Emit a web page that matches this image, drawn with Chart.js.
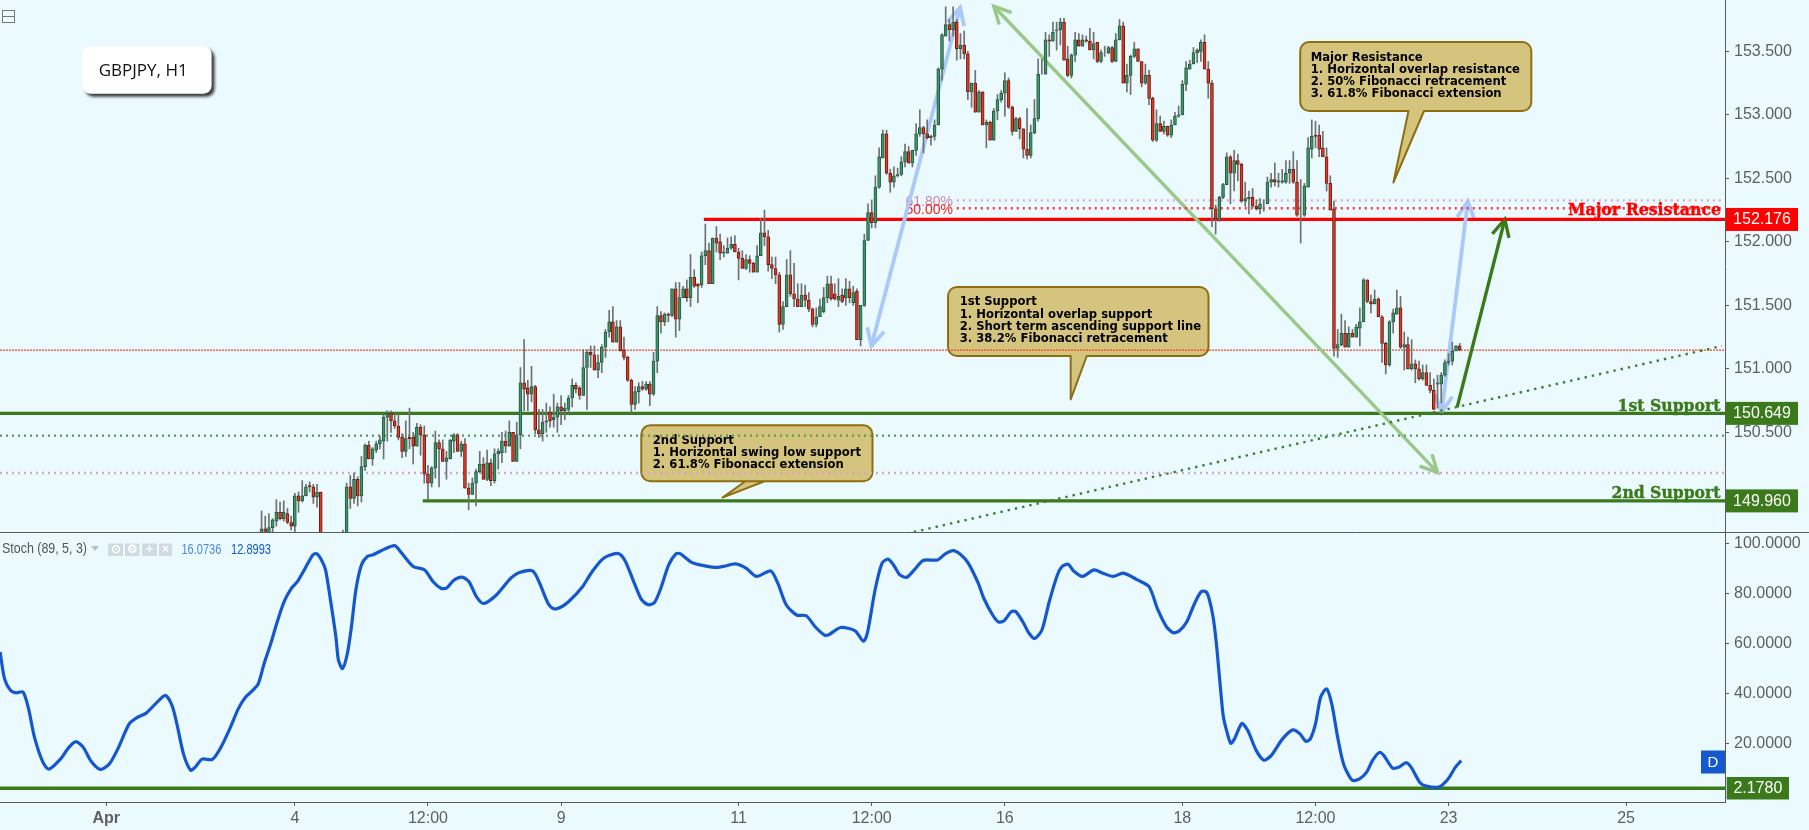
<!DOCTYPE html>
<html>
<head>
<meta charset="utf-8">
<title>GBPJPY, H1</title>
<script src="https://cdn.jsdelivr.net/npm/chart.js@4"></script>
<style>
html,body{margin:0;padding:0;background:#eafaff;width:1809px;height:830px;overflow:hidden}
canvas{position:absolute;left:0;display:block}
#priceCanvas{top:0}
#stochCanvas{top:533px}
</style>
</head>
<body>
<canvas id="priceCanvas" width="1809" height="533"></canvas>
<canvas id="stochCanvas" width="1809" height="297"></canvas>
<script>
// ---------- DATA ----------
const firstCandleBar = 71;
const candleSides = ("GRGGGRGRRG"+"RGGRRGR---"+"--GGRGRGGR"+"GGGGGRRRRG"+"RRGRRRGGRR"+"GGGRGRRGGG"+"RGRGGGRGRG"+"GRRGRRGGRG"+"GRGGGRRGGR"+"RGGGGRGRRR"+"RGGRGRGGRG"+"RGRGGRGRRG"+"GRGRRGGGRR"+"RGRRGGRRRR"+"RGGRRRGRRR"+"GGGGRRGRGR"+"GRGGGRGGGR"+"RGGGGRGGGR"+"RGGGGGRGRG"+"RRGRGRGRGG"+"GGRRGRRRGG"+"GRGRGGGRRG"+"GRGRRGRGRG"+"RGGRGGGRRG"+"RRGRGRGGGG"+"GGGGGRRRRG"+"GGRGRRGGRR"+"GGGGRGGGGR"+"RRGGGRRRRR"+"RGGRGRGGGR"+"RGRRRGGGRG"+"RGRRGRRRGG"+"GGGGR").split("");
const candleHighs = [
149.88,149.84,149.86,149.82,149.97,149.95,149.96,149.90,149.84,150.02,
150.03,150.12,150.09,150.11,150.09,150.09,150.03,null,null,null,
null,null,149.73,150.10,150.16,150.18,150.15,150.31,150.41,150.43,
150.38,150.43,150.47,150.64,150.67,150.67,150.64,150.64,150.49,150.59,
150.69,150.50,150.57,150.56,150.55,150.24,150.23,150.51,150.44,150.44,
150.35,150.44,150.49,150.49,150.43,150.45,150.10,150.14,150.21,150.35,
150.30,150.36,150.29,150.37,150.37,150.50,150.51,150.59,150.50,150.58,
151.01,151.23,150.91,151.02,150.87,150.68,150.68,150.73,150.70,150.80,
150.73,150.79,150.73,150.79,150.92,150.89,150.86,151.15,151.15,151.18,
151.18,151.11,151.19,151.31,151.46,151.49,151.38,151.38,151.25,151.10,
150.92,150.86,150.89,150.90,150.90,150.90,151.13,151.49,151.45,151.44,
151.44,151.63,151.68,151.68,151.65,151.70,151.90,151.78,151.67,151.92,
152.14,151.99,152.03,152.12,152.06,151.97,152.03,152.04,152.05,151.95,
151.93,151.90,151.89,151.84,151.97,152.18,152.25,152.09,151.88,151.88,
151.76,151.53,151.86,151.93,151.83,151.67,151.67,151.66,151.60,151.48,
151.48,151.55,151.64,151.73,151.73,151.67,151.71,151.63,151.71,151.69,
151.65,151.63,151.50,152.06,152.30,152.33,152.52,152.74,152.88,152.88,
152.57,152.59,152.58,152.67,152.77,152.75,152.72,152.93,153.04,152.91,
152.96,152.84,152.96,153.37,153.64,153.85,153.75,153.85,153.75,153.64,
153.66,153.50,153.25,153.35,153.19,153.18,152.96,152.95,153.05,153.16,
153.19,153.33,153.29,153.07,152.98,152.98,152.89,153.05,152.92,153.12,
153.44,153.44,153.65,153.63,153.73,153.73,153.76,153.76,153.54,153.48,
153.65,153.64,153.63,153.62,153.68,153.65,153.57,153.51,153.54,153.54,
153.54,153.64,153.75,153.73,153.40,153.47,153.57,153.52,153.42,153.40,
153.35,153.14,153.04,152.99,152.95,152.91,152.96,153.02,153.07,153.27,
153.42,153.43,153.53,153.52,153.59,153.63,153.42,153.27,152.29,152.36,
152.46,152.70,152.68,152.72,152.69,152.62,152.47,152.40,152.42,152.33,
152.34,152.33,152.51,152.54,152.62,152.54,152.57,152.64,152.64,152.71,
152.64,152.49,152.46,152.82,152.96,152.95,152.92,152.87,152.74,152.52,
152.32,151.31,151.43,151.38,151.33,151.31,151.35,151.48,151.71,151.70,
151.58,151.62,151.56,151.42,151.21,151.38,151.47,151.62,151.57,151.29,
151.25,151.23,151.07,151.06,151.03,151.03,150.97,150.92,150.95,150.97,
151.07,151.12,151.21,151.18,151.20];
const candleTops = [
149.74,149.74,149.75,149.81,149.87,149.87,149.87,149.86,149.79,150.00,
150.00,150.00,150.07,150.08,150.07,150.03,150.03,null,null,null,
null,null,149.69,150.07,150.07,150.13,150.13,150.23,150.40,150.40,
150.37,150.41,150.44,150.62,150.65,150.65,150.59,150.55,150.46,150.45,
150.46,150.46,150.54,150.54,150.48,150.17,150.22,150.42,150.42,150.37,
150.30,150.44,150.48,150.48,150.41,150.41,150.06,150.10,150.19,150.25,
150.25,150.26,150.26,150.33,150.35,150.43,150.43,150.50,150.50,150.48,
150.89,150.89,150.85,150.86,150.86,150.52,150.58,150.59,150.66,150.62,
150.70,150.70,150.69,150.77,150.87,150.87,150.85,151.01,151.13,151.13,
151.11,151.05,151.17,151.29,151.37,151.37,151.33,151.33,151.15,151.09,
150.91,150.82,150.86,150.86,150.88,150.88,151.06,151.42,151.42,151.43,
151.43,151.63,151.63,151.56,151.63,151.63,151.72,151.72,151.67,151.89,
151.93,151.93,152.03,152.03,152.00,151.92,151.95,151.98,151.98,151.92,
151.87,151.86,151.86,151.83,151.89,152.07,152.07,152.04,151.82,151.79,
151.74,151.49,151.74,151.74,151.59,151.55,151.58,151.58,151.54,151.47,
151.41,151.49,151.56,151.67,151.67,151.59,151.57,151.58,151.63,151.63,
151.60,151.61,151.50,152.01,152.23,152.23,152.43,152.67,152.85,152.85,
152.54,152.52,152.53,152.63,152.71,152.71,152.72,152.85,152.90,152.90,
152.85,152.83,152.92,153.36,153.63,153.71,153.71,153.73,153.73,153.55,
153.55,153.48,153.25,153.25,153.18,153.18,152.94,152.94,153.03,153.12,
153.17,153.27,153.27,153.06,152.97,152.97,152.89,152.73,152.86,152.97,
153.32,153.32,153.59,153.59,153.65,153.67,153.73,153.73,153.44,153.47,
153.59,153.59,153.59,153.59,153.58,153.56,153.57,153.49,153.49,153.53,
153.53,153.59,153.70,153.70,153.31,153.46,153.52,153.52,153.42,153.31,
153.31,153.13,152.93,152.93,152.91,152.91,152.92,152.99,153.00,153.24,
153.37,153.40,153.49,153.51,153.57,153.57,153.36,153.25,152.26,152.35,
152.45,152.67,152.67,152.64,152.64,152.61,152.34,152.35,152.35,152.28,
152.30,152.30,152.47,152.49,152.49,152.48,152.48,152.54,152.57,152.57,
152.47,152.21,152.44,152.74,152.83,152.84,152.84,152.74,152.67,152.46,
152.26,151.19,151.28,151.28,151.28,151.28,151.33,151.37,151.70,151.70,
151.53,151.55,151.55,151.41,151.20,151.37,151.44,151.48,151.48,151.19,
151.19,151.04,151.04,151.00,150.97,150.97,150.87,150.83,150.89,150.95,
151.05,151.06,151.14,151.18,151.18];
const candleBottoms = [
149.69,149.69,149.69,149.75,149.80,149.82,149.82,149.79,149.76,149.76,
149.96,149.96,150.00,150.07,149.99,149.99,149.64,null,null,null,
null,null,149.64,149.64,149.98,149.98,150.00,150.00,150.23,150.29,
150.29,150.36,150.41,150.43,150.62,150.59,150.55,150.46,150.35,150.35,
150.45,150.39,150.39,150.48,150.17,150.10,150.10,150.22,150.37,150.27,
150.27,150.29,150.43,150.35,150.35,150.06,150.01,150.01,150.10,150.19,
150.13,150.13,150.12,150.12,150.33,150.34,150.39,150.39,150.27,150.27,
150.48,150.84,150.80,150.80,150.52,150.49,150.49,150.58,150.59,150.60,
150.62,150.67,150.67,150.68,150.77,150.84,150.79,150.79,151.01,151.11,
150.99,150.99,151.05,151.17,151.29,151.21,151.21,151.14,151.09,150.91,
150.72,150.72,150.82,150.84,150.84,150.80,150.80,151.06,151.37,151.37,
151.42,151.42,151.39,151.39,151.56,151.56,151.56,151.65,151.65,151.66,
151.89,151.67,151.67,151.99,151.91,151.91,151.91,151.95,151.92,151.87,
151.79,151.79,151.83,151.76,151.76,151.89,152.04,151.82,151.79,151.74,
151.35,151.35,151.49,151.59,151.55,151.49,151.49,151.54,151.47,151.35,
151.35,151.41,151.45,151.56,151.55,151.55,151.54,151.53,151.56,151.56,
151.52,151.23,151.23,151.50,152.01,152.15,152.15,152.43,152.66,152.54,
152.47,152.47,152.52,152.53,152.63,152.62,152.62,152.72,152.85,152.85,
152.82,152.82,152.83,152.92,153.36,153.62,153.67,153.67,153.52,153.52,
153.48,153.18,153.18,153.02,153.02,152.92,152.92,152.80,152.80,153.03,
153.12,153.17,153.06,152.87,152.87,152.89,152.73,152.68,152.68,152.86,
152.97,153.32,153.32,153.58,153.58,153.66,153.67,153.43,153.31,153.31,
153.47,153.54,153.54,153.58,153.51,153.51,153.42,153.42,153.49,153.49,
153.42,153.42,153.59,153.25,153.25,153.31,153.46,153.42,153.25,153.25,
153.13,152.80,152.80,152.87,152.87,152.84,152.84,152.92,152.99,153.00,
153.24,153.36,153.40,153.49,153.50,153.36,153.25,152.26,152.18,152.17,
152.35,152.45,152.54,152.54,152.61,152.32,152.32,152.34,152.28,152.26,
152.26,152.30,152.30,152.47,152.47,152.47,152.47,152.47,152.54,152.47,
152.21,152.21,152.21,152.43,152.73,152.83,152.73,152.67,152.46,152.25,
151.16,151.16,151.19,151.17,151.17,151.25,151.25,151.32,151.37,151.53,
151.51,151.51,151.41,151.20,151.03,151.03,151.37,151.43,151.17,151.17,
151.00,151.00,151.00,150.92,150.92,150.87,150.83,150.68,150.88,150.88,
150.95,151.05,151.06,151.14,151.15];
const candleLows = [
149.64,149.64,149.64,149.69,149.76,149.81,149.80,149.78,149.73,149.71,
149.87,149.95,150.00,150.03,149.94,149.91,149.64,null,null,null,
null,null,149.64,149.64,149.90,149.94,149.92,149.95,150.20,150.29,
150.24,150.34,150.37,150.29,150.43,150.50,150.53,150.44,150.30,150.31,
150.37,150.25,150.39,150.32,150.10,149.97,150.07,150.14,150.07,150.27,
150.13,150.29,150.34,150.35,150.31,150.06,149.89,150.01,149.92,150.18,
150.13,150.12,150.08,150.10,150.21,150.26,150.34,150.39,150.27,150.27,
150.37,150.67,150.67,150.74,150.49,150.46,150.43,150.50,150.54,150.54,
150.50,150.56,150.60,150.65,150.70,150.81,150.76,150.79,150.68,151.01,
150.99,150.93,150.97,151.09,151.25,151.21,151.21,151.14,151.07,150.90,
150.65,150.68,150.73,150.83,150.83,150.71,150.79,150.97,151.28,151.34,
151.37,151.41,151.25,151.30,151.56,151.53,151.49,151.64,151.52,151.64,
151.82,151.67,151.67,151.92,151.86,151.88,151.91,151.94,151.92,151.70,
151.79,151.78,151.76,151.76,151.76,151.89,151.97,151.77,151.71,151.67,
151.29,151.31,151.49,151.57,151.49,151.49,151.49,151.49,151.45,151.33,
151.33,151.41,151.44,151.52,151.54,151.54,151.49,151.52,151.50,151.52,
151.50,151.23,151.18,151.49,152.01,152.11,152.11,152.42,152.66,152.53,
152.39,152.43,152.51,152.52,152.59,152.62,152.59,152.68,152.83,152.70,
152.81,152.76,152.80,152.92,153.27,153.62,153.58,153.62,153.43,153.44,
153.44,153.12,153.06,153.02,153.02,152.92,152.74,152.80,152.80,152.96,
153.10,152.99,153.05,152.84,152.87,152.81,152.66,152.65,152.66,152.85,
152.95,153.32,153.32,153.46,153.58,153.51,153.55,153.43,153.30,153.29,
153.42,153.54,153.54,153.57,153.51,153.44,153.41,153.41,153.46,153.48,
153.41,153.42,153.59,153.25,153.18,153.16,153.45,153.42,153.22,153.24,
153.08,152.79,152.79,152.87,152.85,152.83,152.82,152.92,152.98,153.00,
153.19,153.36,153.40,153.41,153.42,153.36,153.13,152.12,152.06,152.16,
152.34,152.45,152.30,152.40,152.48,152.31,152.28,152.22,152.27,152.25,
152.22,152.24,152.30,152.43,152.44,152.43,152.46,152.46,152.46,152.46,
152.20,151.99,152.20,152.43,152.66,152.74,152.67,152.67,152.40,152.25,
151.10,151.09,151.18,151.17,151.17,151.25,151.25,151.18,151.37,151.52,
151.44,151.51,151.41,151.05,150.96,151.02,151.28,151.43,151.16,150.99,
151.00,150.99,150.89,150.91,150.91,150.87,150.81,150.68,150.69,150.73,
150.94,151.03,151.03,151.14,151.14];

const stochBars = [0.3,1.5,3.1,4.6,6.5,8,9.6,11.9,13.5,16.6,18.9,20.8,22.8,24.8,27.4,29.8,32.1,35.2,37.2,39.8,42.5,45,46.8,48.1,49.9,51.8,53,54.9,57.7,60,62.4,64.7,66.7,68.6,70.1,71.7,73.5,75.1,77.1,79.1,80.7,82.8,84.9,85.9,87.2,88.3,89.5,91.1,91.8,92.9,94.2,95.3,96.5,98,99.6,101.2,103.5,107,108.9,112,115.1,117.4,119.5,121,122.9,125.2,127.1,129.1,131,134.5,138.4,140.7,144.3,146.2,148.5,150,151.6,154,157.8,160.1,163.2,165.1,167.6,169.4,171.8,173.8,175.6,177.2,178.8,181.1,183.1,184.2,187.3,189.6,193.5,195.8,199.2,202,204.8,208.7,210.6,212.9,215.7,218.3,220.7,223.3,224.5,227.6,231.5,233.8,234.9,236.9,238.8,240.4,241.9,243.6,245.5,247.5,249.9,253.8,255.8,258,260.1,262.1,264.8,266.3,268.7,270.3,271.8,273.7,275,277,278.4,280,282,284,286.2,287.5,289.1,290.6,293,296.1,298.5,301.3,304,307.9,311,313.4,315.7,317.6,319.2,321.2,323.3,325.1,326.4,327.2,328.3,329.2,330.2,331.1,332.2,333.1,334.1,336.1,337.7,340,342.1,344,347.1,349.9,351.8,353.4,354.6,356,357.4,359,360.4,362,363.6,365.9,367.8,369.8,371.4,373.3,374.5,376.9,378.8,380.5,381.9,384.2,386,389.4,391.8,393.8,395.4];
const stochValues = [56.6,45.9,41.3,40.3,40.6,33.9,22.5,12.5,9.8,13.8,18.5,20.8,18.5,13.2,9.7,11.8,17.8,27.9,30.3,32.2,36.2,39.3,35.2,27.9,15.8,9.4,10.5,13.8,13.7,18.5,25.9,33.9,38.6,41.3,43.9,52,60,68,76.7,82.1,84.7,90.1,95.5,95.9,93.4,89.4,78.7,62.7,53.3,50,56,66.7,81.4,91.4,94.8,95.5,97.2,99.1,96.1,90.8,89.4,84.7,82.1,82.1,85.2,86.5,84.7,78.7,76,79.4,86.1,88.4,89,84.1,76,73.9,74.3,76.7,82.7,88.1,93.7,95.3,95.9,92.8,84.1,77.4,75.5,76.3,81.4,91.4,95.9,95.9,92.4,91.4,90.4,90.8,91.8,90.1,86.8,89,84.1,75.4,71.4,71.1,66.7,63.3,63.6,66.4,65.1,60.9,64.7,81.4,92.1,93.7,91.4,87.4,86.5,89.4,93.2,93.4,95.7,97.1,95.5,92.1,84.1,78.1,71.4,68.6,69.1,72.7,72.7,68.3,64.4,62,65.3,76.7,87.4,90.8,91.7,89,86.8,89.4,88.1,86.8,88.1,85.4,82.7,73.4,66.7,64.3,65.1,68.7,76,80.7,80.7,78.1,70.7,60,43.9,30.6,23.9,20.1,21.9,28.1,25.2,17.2,13.4,15.2,21.9,25.5,23.9,20.9,21.9,27.9,38.6,41.9,35.9,22.5,11.8,5.4,5.8,8.5,13.2,16.5,15.2,10.2,10.8,12.4,10.5,4.5,3,2.7,5.8,10.5,13.2];

const timeTickBars = [29,80,116,152,200,236,272,320,356,392,440];
const timeTickLabels = ["Apr","4","12:00","9","11","12:00","16","18","12:00","23","25"];
const priceTicks = [150.5,151,151.5,152,152.5,153,153.5];
const stochTicks = [20,40,60,80,100];

const majorResistance = 152.176, firstSupport = 150.649, secondSupport = 149.96, stochFloor = 2.178;
const currentPrice = 151.147, fib618 = 152.326, fib50 = 152.264, greenDotted = 150.474, pinkDotted = 150.18;
const trendLine = [[247.4,149.715],[465.9,151.18]];
const blueArrowLeft = [[235.9,151.18],[259.9,153.844]];
const blueArrowRight = [[390.1,150.656],[397.2,152.318]];
const paleGreenArrow = [[269,153.855],[389,150.184]];
const darkGreenArrow = [[394.3,150.696],[407.2,152.176]];
const callout1 = ["1st Support","1. Horizontal overlap support","2. Short term ascending support line","3. 38.2% Fibonacci retracement"];
const callout2 = ["2nd Support","1. Horizontal swing low support","2. 61.8% Fibonacci extension"];
const callout3 = ["Major Resistance","1. Horizontal overlap resistance","2. 50% Fibonacci retracement","3. 61.8% Fibonacci extension"];

// ---------- STYLE ----------
const AXIS_FONT = '"Liberation Sans", Arial, sans-serif';
const GREEN_LINE = '#3a7a1a', RED_LINE = '#ff0000', GRAY = '#5a5a5a', BLUE = '#1557cf';
const PALE_BLUE = '#aac9fb', PALE_GREEN = '#99c987';
const X_MIN = 0.27, X_MAX = 466.74;
Chart.defaults.animation = false;
Chart.defaults.font.family = AXIS_FONT;

function lineSet(points, color, width, dash, order){
  return {type:'line', data:points.map(p=>({x:p[0],y:p[1]})), borderColor:color, borderWidth:width,
    borderDash:dash||[], pointRadius:0, tension:0, order:order||10, borderCapStyle:'butt'};
}
function hLine(y, from, to, color, width, dash, order){ return lineSet([[from,y],[to,y]],color,width,dash,order); }

const wickData=[], bodyData=[], bodySide=[];
candleHighs.forEach((h,i)=>{
  if(h===null) return;
  const n=firstCandleBar+i;
  wickData.push({x:n,y:[candleLows[i],h]});
  bodyData.push({x:n,y:[candleBottoms[i],candleTops[i]]});
  bodySide.push(candleSides[i]);
});

function roundedPath(c,x,y,w,h,r){ c.beginPath(); c.roundRect(x,y,w,h,r); }

function drawCallout(c,box,tail,lines,textX,textYs,k){
  c.save();
  c.fillStyle='#d4c47e'; c.strokeStyle='#8d6f12'; c.lineWidth=2; c.lineJoin='round';
  c.beginPath();
  const {x,y,w,h}=box, r=9;
  c.moveTo(x+r,y); c.arcTo(x+w,y,x+w,y+h,r); c.arcTo(x+w,y+h,x,y+h,r);
  c.lineTo(tail.b,y+h); c.lineTo(tail.tx,tail.ty); c.lineTo(tail.a,y+h);
  c.arcTo(x,y+h,x,y,r); c.arcTo(x,y,x+w,y,r); c.closePath();
  c.fill(); c.stroke();
  c.fillStyle='#000'; c.font='bold 12px "DejaVu Sans"'; c.textBaseline='middle'; c.textAlign='left';
  lines.forEach((t,i)=>{ c.fillText(t,textX,textYs[i],c.measureText(t).width*k); });
  c.restore();
}
function drawHead(chart,seg,color,width,both){
  const c=chart.ctx, X=chart.scales.x, Y=chart.scales.y;
  const pts=seg.map(p=>[X.getPixelForValue(p[0]),Y.getPixelForValue(p[1])]);
  const one=(tip,from)=>{
    const ang=Math.atan2(tip[1]-from[1],tip[0]-from[0]), L=19, s=0.47;
    c.beginPath();
    c.moveTo(tip[0]-L*Math.cos(ang-s),tip[1]-L*Math.sin(ang-s));
    c.lineTo(tip[0],tip[1]);
    c.lineTo(tip[0]-L*Math.cos(ang+s),tip[1]-L*Math.sin(ang+s));
    c.stroke();
  };
  c.save(); c.strokeStyle=color; c.lineWidth=width; c.lineJoin='miter';
  one(pts[1],pts[0]); if(both) one(pts[0],pts[1]);
  c.restore();
}
function badge(c,x,yc,w,h,color,text,font){
  c.save(); c.fillStyle=color; c.fillRect(x,yc-h/2,w,h);
  c.fillStyle='#fff'; c.font=font||('16px '+AXIS_FONT); c.textAlign='center'; c.textBaseline='middle';
  c.fillText(text,x+w/2,yc+0.5); c.restore();
}
function rightLabel(c,text,xr,base,w,color){
  c.save(); c.font='bold 17px "DejaVu Serif"'; c.fillStyle=color; c.strokeStyle=color; c.lineWidth=0.4;
  c.textAlign='left'; c.textBaseline='alphabetic';
  c.fillText(text,xr-w,base,w); c.strokeText(text,xr-w,base,w); c.restore();
}

const pricePlugin = {
  id:'priceDecor',
  beforeDatasetsDraw(chart){
    const c=chart.ctx;
    const k=192.5/(()=>{c.save();c.font='bold 12px "DejaVu Sans"';const m=c.measureText(callout1[1]).width;c.restore();return m;})();
    drawCallout(c,{x:948,y:287,w:260.5,h:69},{a:1070.7,b:1086.8,tx:1070.7,ty:399.4},callout1,959.7,[302.3,314.4,326.4,338.5],k);
    drawCallout(c,{x:641.3,y:425.3,w:231.2,h:56},{a:764.6,b:745.4,tx:722.5,ty:497.6},callout2,652.8,[440.8,452.8,464.9],k);
    drawCallout(c,{x:1300.2,y:42,w:231.1,h:69},{a:1408.5,b:1424,tx:1393.4,ty:182.5},callout3,1310.7,[57.5,69.6,81.6,93.7],k);
    drawHead(chart,blueArrowLeft,PALE_BLUE,3.8,true);
    drawHead(chart,blueArrowRight,PALE_BLUE,3.8,true);
    drawHead(chart,paleGreenArrow,PALE_GREEN,3.4,true);
    drawHead(chart,darkGreenArrow,GREEN_LINE,3.4,false);
    const Y=chart.scales.y;
    c.save(); c.font='14px '+AXIS_FONT; c.textAlign='right'; c.textBaseline='middle';
    c.fillStyle='#cc88aa'; c.fillText('61.80%',953,Y.getPixelForValue(fib618)+2);
    c.fillStyle='#ff2020'; c.fillText('50.00%',953,Y.getPixelForValue(fib50)+2);
    c.restore();
  },
  afterDraw(chart){
    const c=chart.ctx, Y=chart.scales.y;
    c.save(); c.strokeStyle=GRAY; c.lineWidth=1; c.beginPath(); c.moveTo(0,532.5); c.lineTo(1809,532.5); c.stroke(); c.restore();
    rightLabel(c,'Major Resistance',1721,214.5,153,'#ff0000');
    rightLabel(c,'1st Support',1720.5,410.5,103,GREEN_LINE);
    rightLabel(c,'2nd Support',1720.5,497.6,109,GREEN_LINE);
    badge(c,1726,Y.getPixelForValue(majorResistance),72,23,'#ff0000','152.176');
    badge(c,1726,Y.getPixelForValue(firstSupport),72,23,GREEN_LINE,'150.649');
    badge(c,1726,Y.getPixelForValue(secondSupport),72,23,GREEN_LINE,'149.960');
    c.save();
    c.shadowColor='rgba(0,0,0,0.75)'; c.shadowBlur=3; c.shadowOffsetX=3; c.shadowOffsetY=3;
    c.fillStyle='#fff'; roundedPath(c,82.3,46.5,129.3,47.2,8); c.fill();
    c.shadowColor='transparent';
    c.fillStyle='#111'; c.font='17px "Open Sans"'; c.textBaseline='middle'; c.textAlign='left';
    c.fillText('GBPJPY, H1',98.7,70.8,89);
    c.restore();
    c.save(); c.strokeStyle='#777'; c.lineWidth=1; c.strokeRect(2.5,10.5,12,12);
    c.beginPath(); c.moveTo(3,16.5); c.lineTo(14,16.5); c.stroke(); c.restore();
  }
};

const stochPlugin = {
  id:'stochDecor',
  afterDraw(chart){
    const c=chart.ctx, Y=chart.scales.y;
    badge(c,1726.7,Y.getPixelForValue(stochFloor),62.3,22.5,GREEN_LINE,'2.1780');
    badge(c,1701,229,24,23,BLUE,'D','15px '+AXIS_FONT);
    c.save();
    c.textBaseline='middle'; c.textAlign='left';
    c.font='14px '+AXIS_FONT; c.fillStyle='#555'; c.fillText('Stoch (89, 5, 3)',2,16.5,85);
    c.fillStyle='#b8c0c4'; c.beginPath(); c.moveTo(91,13); c.lineTo(99,13); c.lineTo(95,18); c.closePath(); c.fill();
    [[108,15],[125,14.5],[142,15],[159,13]].forEach(b=>{c.fillStyle='#cfdbe0'; c.fillRect(b[0],10.5,b[1],12.5);});
    c.fillStyle='#fff'; c.textAlign='center'; c.font='bold 12px '+AXIS_FONT;
    c.fillText('⊙',115.5,16.5); c.fillText('⚙',132,16.5); c.fillText('+',149.5,16.5); c.fillText('×',165.5,16.5);
    c.textAlign='left'; c.font='15px '+AXIS_FONT;
    c.fillStyle='#4a86e0'; c.fillText('16.0736',181.4,17,40);
    c.fillStyle=BLUE; c.fillText('12.8993',231,17,40);
    c.restore();
  }
};

function yAxis(min,max,ticks,digits){
  return { position:'right', min, max,
    afterFit(s){ s.width=84; s.paddingTop=0; s.paddingBottom=0; },
    afterBuildTicks(s){ s.ticks=ticks.map(v=>({value:v})); },
    border:{display:true,color:GRAY,width:1},
    grid:{drawOnChartArea:false,drawTicks:true,tickLength:4,tickColor:GRAY},
    ticks:{color:'#5f5f5f',padding:5,font:{size:16},callback:v=>Number(v).toFixed(digits)}
  };
}

new Chart(document.getElementById('priceCanvas'),{
  type:'bar',
  plugins:[pricePlugin],
  data:{datasets:[
    hLine(pinkDotted,X_MIN,X_MAX,'#d9a6c8',2.4,[2,4]),
    hLine(greenDotted,X_MIN,X_MAX,'#559d50',2.4,[2,4]),
    hLine(fib618,259,465.9,'#d9a6c8',2.4,[2,4]),
    hLine(fib50,259,465.9,'#ff3030',2.4,[2,4]),
    lineSet(trendLine,'#3f8030',2.4,[2.4,5]),
    lineSet(paleGreenArrow,PALE_GREEN,3.4),
    lineSet(blueArrowLeft,PALE_BLUE,3.8),
    lineSet(blueArrowRight,PALE_BLUE,3.8),
    lineSet(darkGreenArrow,GREEN_LINE,3.4),
    hLine(currentPrice,X_MIN,X_MAX,'#ee4426',1.2,[2,1]),
    hLine(majorResistance,190.6,X_MAX,RED_LINE,3.3),
    hLine(firstSupport,X_MIN,X_MAX,GREEN_LINE,3.3),
    hLine(secondSupport,114.6,X_MAX,GREEN_LINE,3.3),
    {type:'bar',data:wickData,backgroundColor:'#707070',barThickness:1,grouped:false,order:2},
    {type:'bar',data:bodyData,barThickness:3,grouped:false,order:1,borderWidth:1,borderSkipped:false,
      backgroundColor:ctx=>bodySide[ctx.dataIndex]==='G'?'#41936b':'#dd3a26',
      borderColor:ctx=>bodySide[ctx.dataIndex]==='G'?'#235a3c':'#701c10'}
  ]},
  options:{
    responsive:false, devicePixelRatio:1,
    layout:{padding:{left:0,right:0,top:0,bottom:1}},
    plugins:{legend:{display:false},tooltip:{enabled:false}},
    scales:{
      x:{type:'linear',display:false,offset:false,min:X_MIN,max:X_MAX},
      y:yAxis(149.715,153.904,priceTicks,3)
    }
  }
});

new Chart(document.getElementById('stochCanvas'),{
  type:'line',
  plugins:[stochPlugin],
  data:{datasets:[
    hLine(stochFloor,X_MIN,X_MAX,GREEN_LINE,3.3,[],5),
    {type:'line',data:stochBars.map((b,i)=>({x:b,y:stochValues[i]})),borderColor:BLUE,borderWidth:3.2,pointRadius:0,tension:0.25,order:1,borderJoinStyle:'round'}
  ]},
  options:{
    responsive:false, devicePixelRatio:1,
    layout:{padding:0},
    plugins:{legend:{display:false},tooltip:{enabled:false}},
    scales:{
      x:{type:'linear',offset:false,min:X_MIN,max:X_MAX,position:'bottom',
        afterFit(s){ s.height=28; s.paddingLeft=0; s.paddingRight=0; },
        afterBuildTicks(s){ s.ticks=timeTickBars.map(v=>({value:v})); },
        border:{display:true,color:GRAY,width:1},
        grid:{drawOnChartArea:false,drawTicks:true,tickLength:4,tickColor:GRAY},
        ticks:{autoSkip:false,maxRotation:0,color:'#5f5f5f',padding:3,
          font:c=>({size:16,weight:timeTickLabels[timeTickBars.indexOf(c.tick&&c.tick.value)]==='Apr'?'bold':'normal'}),
          callback:v=>timeTickLabels[timeTickBars.indexOf(v)]}
      },
      y:yAxis(-3.32,104.16,stochTicks,4)
    }
  }
});
</script>
</body>
</html>
